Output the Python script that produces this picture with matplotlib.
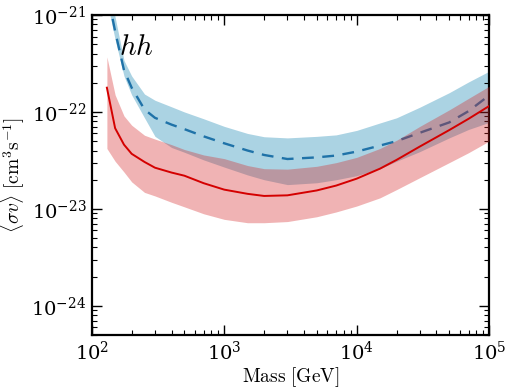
import numpy as np
import matplotlib
matplotlib.use("Agg")
import matplotlib.pyplot as plt

plt.rcParams['mathtext.fontset'] = 'cm'
plt.rcParams['font.family'] = ['DejaVu Serif']

# Data
mass = [130, 150, 175, 200, 250, 300, 400, 500, 700, 1000, 1500, 2000, 3000,
        5000, 7000, 10000, 15000, 20000, 30000, 50000, 70000, 100000]

blue_mid = [1.8e-21, 6.8e-22, 2.7e-22, 1.78e-22, 1.06e-22, 8.7e-23, 7.4e-23, 6.65e-23,
            5.6e-23, 4.75e-23, 4.0e-23, 3.6e-23, 3.27e-23, 3.4e-23, 3.55e-23, 3.9e-23,
            4.5e-23, 5.0e-23, 6.1e-23, 7.8e-23, 1.02e-22, 1.48e-22]
blue_hi = [3.0e-21, 9.5e-22, 3.4e-22, 2.35e-22, 1.53e-22, 1.32e-22, 1.13e-22, 1.0e-22,
           8.5e-23, 7.1e-23, 6.0e-23, 5.55e-23, 5.4e-23, 5.6e-23, 5.8e-23, 6.45e-23,
           7.7e-23, 8.7e-23, 1.12e-22, 1.58e-22, 2.04e-22, 2.63e-22]
blue_lo = [1.4e-21, 5.6e-22, 2.35e-22, 1.5e-22, 8.7e-23, 5.6e-23, 4.3e-23, 3.84e-23,
           3.2e-23, 2.7e-23, 2.24e-23, 2.0e-23, 1.78e-23, 1.86e-23, 2.0e-23, 2.2e-23,
           2.6e-23, 3.1e-23, 3.9e-23, 5.4e-23, 6.6e-23, 7.8e-23]

red_mid = [1.78e-22, 6.8e-23, 4.6e-23, 3.7e-23, 3.05e-23, 2.66e-23, 2.37e-23, 2.2e-23,
           1.84e-23, 1.58e-23, 1.43e-23, 1.36e-23, 1.38e-23, 1.55e-23, 1.74e-23, 2.05e-23,
           2.6e-23, 3.2e-23, 4.4e-23, 6.5e-23, 8.5e-23, 1.15e-22]
red_hi = [3.7e-22, 1.5e-22, 9.1e-23, 7.3e-23, 5.75e-23, 5.25e-23, 4.6e-23, 4.1e-23,
          3.6e-23, 3.3e-23, 2.8e-23, 2.6e-23, 2.57e-23, 2.75e-23, 3.0e-23, 3.4e-23,
          4.2e-23, 5.1e-23, 7.1e-23, 1.05e-22, 1.38e-22, 1.84e-22]
red_lo = [4.2e-23, 3.1e-23, 2.4e-23, 1.9e-23, 1.48e-23, 1.36e-23, 1.17e-23, 1.05e-23,
          8.9e-24, 7.8e-24, 7.2e-24, 7.2e-24, 7.4e-24, 8.3e-24, 9.3e-24, 1.07e-23,
          1.3e-23, 1.58e-23, 2.1e-23, 3.0e-23, 3.8e-23, 5.0e-23]

channel_label = r'$hh$'

fig = plt.figure(figsize=(5.1, 3.9), dpi=100)
ax = fig.add_axes([0.18, 0.141, 0.779, 0.8205])

ax.fill_between(mass, blue_lo, blue_hi, color='#abd3e3', lw=0, zorder=1)
ax.plot(mass, blue_mid, color='#1f72a8', lw=1.7, ls=(0, (5, 3.6)), zorder=2)
ax.fill_between(mass, red_lo, red_hi, color='#d62728', alpha=0.35, lw=0, zorder=3)
ax.plot(mass, red_mid, color='#d40000', lw=1.4, zorder=4)

ax.set_xscale('log')
ax.set_yscale('log')
ax.set_xlim(1e2, 1e5)
ax.set_ylim(5e-25, 1e-21)

ax.tick_params(which='both', direction='in', top=True, right=True, labelsize=14)
ax.tick_params(which='major', length=7, width=1.0, pad=4)
ax.tick_params(which='minor', length=3.5, width=0.8)
for s in ax.spines.values():
    s.set_linewidth(1.6)

ax.set_xlabel(r'$\mathrm{Mass\ [GeV]}$', fontsize=14, labelpad=1)
ax.set_ylabel(r'$\langle\sigma v\rangle\ [\mathrm{cm}^3\mathrm{s}^{-1}]$', fontsize=14, labelpad=3)

ax.text(0.068, 0.875, channel_label, transform=ax.transAxes, fontsize=21)

fig.savefig('out.png', dpi=100)
